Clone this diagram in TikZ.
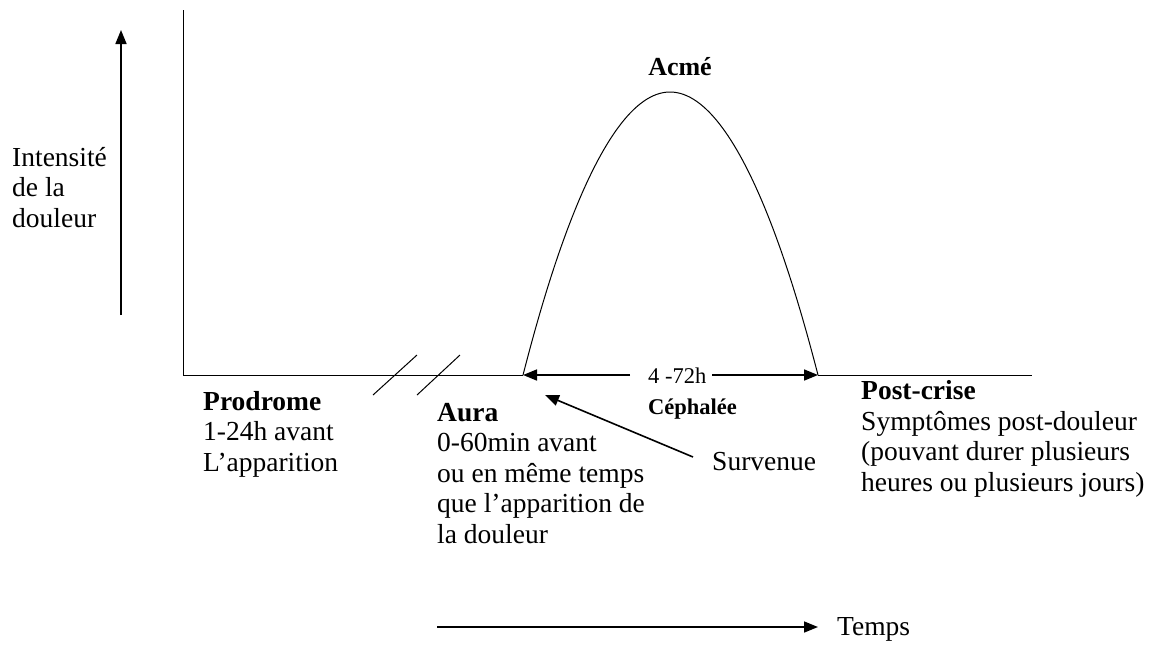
\documentclass[tikz,border=0pt]{standalone}
\usepackage{fontspec}
\setmainfont{Liberation Serif}
\usetikzlibrary{arrows.meta}
\begin{document}
\begin{tikzpicture}[x=1pt,y=-1pt,
  lbl/.style={font=\fontsize{27.5}{30.5}\selectfont, inner sep=0pt, anchor=base west, align=left},
  axis/.style={line width=1pt, black},
  arr/.style={line width=1.6pt, -{Triangle[length=14pt,width=11pt]}},
  cut/.style={line width=1pt}]
\useasboundingbox (0,0) rectangle (1155,646);
% axes
\coordinate (ytop) at (183,10);
\coordinate (origin) at (183,375);
\coordinate (xend) at (1032,375);
\coordinate (cs) at (523,375);
\coordinate (peak) at (670,92);
\coordinate (ce) at (818,375);
\draw[axis] (ytop) -- (origin) -- (cs);
\draw[axis] (ce) -- (xend);
% intensity arrow
\coordinate (ia) at (121,315);
\coordinate (ib) at (121,30);
\draw[arr] (ia) -- (ib);
\node[lbl] (intens) at (12,227) {Intensité\\de la\\douleur};
% curve
\draw[line width=1pt] (cs) parabola bend (peak) (ce);
\node[font=\bfseries\fontsize{26}{28}\selectfont, inner sep=0pt, anchor=base] (acme) at (680,75) {Acmé};
% duration arrow
\coordinate (g1) at (630,375);
\coordinate (g2) at (712,375);
\draw[arr] (g1) -- (cs);
\draw[arr] (g2) -- (ce);
\node[inner sep=0pt, anchor=base west, font=\fontsize{22.5}{24}\selectfont] (dur) at (648,383) {4 -72h};
\node[inner sep=0pt, anchor=base west, font=\bfseries\fontsize{22.5}{24}\selectfont] (ceph) at (648,414) {Céphalée};
% break marks
\coordinate (s1a) at (373,395); \coordinate (s1b) at (417,355);
\coordinate (s2a) at (417,395); \coordinate (s2b) at (460,355);
\draw[cut] (s1a) -- (s1b);
\draw[cut] (s2a) -- (s2b);
% phase labels
\node[lbl] (prod) at (203,471) {\textbf{Prodrome}\\1-24h avant\\L’apparition};
\node[lbl] (aura) at (437,543) {\textbf{Aura}\\0-60min avant\\ou en même temps\\que l’apparition de\\la douleur};
\node[lbl] (post) at (861,491) {\textbf{Post-crise}\\Symptômes post-douleur\\(pouvant durer plusieurs\\heures ou plusieurs jours)};
% survenue
\node[lbl] (surv) at (712,470) {Survenue};
\coordinate (stail) at (693,457);
\coordinate (stip) at (545,395);
\draw[arr] (stail) -- (stip);
% time arrow
\coordinate (ta) at (437,627);
\coordinate (tb) at (818,627);
\draw[arr] (ta) -- (tb);
\node[lbl] (temps) at (837,635) {Temps};
\end{tikzpicture}
\end{document}
